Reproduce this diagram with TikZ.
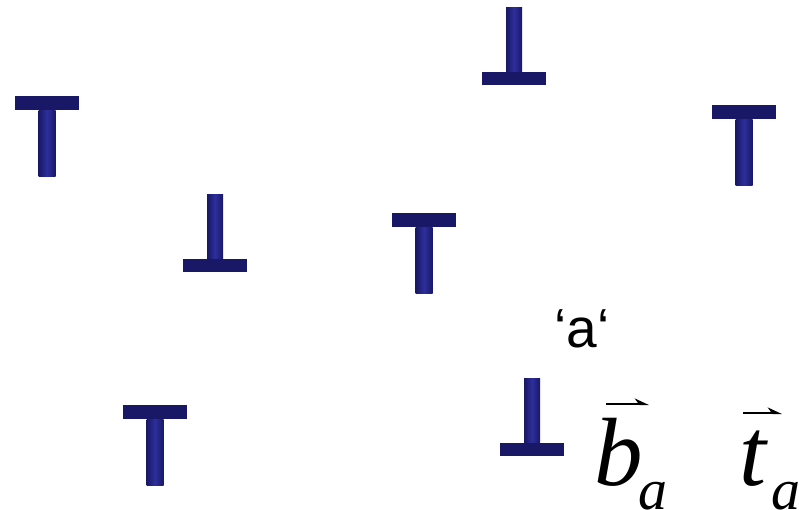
\documentclass[tikz,border=0pt]{standalone}
\usepackage{fontspec}
\setmainfont{Liberation Serif}
\newfontfamily\labelfont{Liberation Sans}
\usepackage{xcolor}
\usetikzlibrary{arrows.meta}

\definecolor{navy}{RGB}{24,24,102}
\definecolor{navylight}{RGB}{46,46,156}

\tikzset{
  stemfill/.style={left color=navy, right color=navy, middle color=navylight},
  barfill/.style={fill=navy},
  % edge dislocation, extra half plane above the bar
  pics/upT/.style={code={
    \fill[barfill] (-32,0) rectangle (32,14);
    \shade[stemfill] (-8.5,14) rectangle (8.5,80);
  }},
  % edge dislocation, opposite sign
  pics/downT/.style={code={
    \shade[stemfill] (-8,-78) rectangle (8,-13);
    \fill[barfill] (-32,-13) rectangle (32,0);
  }},
  vecarrow/.style={line width=2.8pt, -{Stealth[harpoon, length=12pt, width=11pt]}},
  bigsym/.style={inner sep=0pt, font=\fontsize{97}{97}\selectfont\itshape},
  subsym/.style={inner sep=0pt, font=\fontsize{58}{58}\selectfont\itshape},
  namelabel/.style={inner sep=0pt, font=\labelfont\fontsize{55}{55}\selectfont}
}

\begin{document}
\begin{tikzpicture}[x=1pt, y=-1pt]
\path[use as bounding box, clip] (0,0) rectangle (799,509);

% dislocations
\foreach \px/\py in {47/96, 424/213, 744/105, 155/405}
  \pic at (\px,\py) {upT};
\foreach \px/\py in {514/85, 215/272, 532/456}
  \pic at (\px,\py) {downT};

% labels
\node[namelabel, anchor=base west] (aname) at (554,347) {‘a‘};
\node[bigsym, anchor=base west] (bvec) at (594,485) {b};
\node[subsym, anchor=base west] (bsub) at (638,509) {a};
\node[bigsym, anchor=base west] (tvec) at (739,485) {t};
\node[subsym, anchor=base west] (tsub) at (771,509) {a};

\coordinate (bstart) at (606,404);
\coordinate (bend) at (649,404);
\coordinate (tstart) at (743,413);
\coordinate (tend) at (782,413);
\draw[vecarrow] (bstart) -- (bend);
\draw[vecarrow] (tstart) -- (tend);
\end{tikzpicture}
\end{document}
